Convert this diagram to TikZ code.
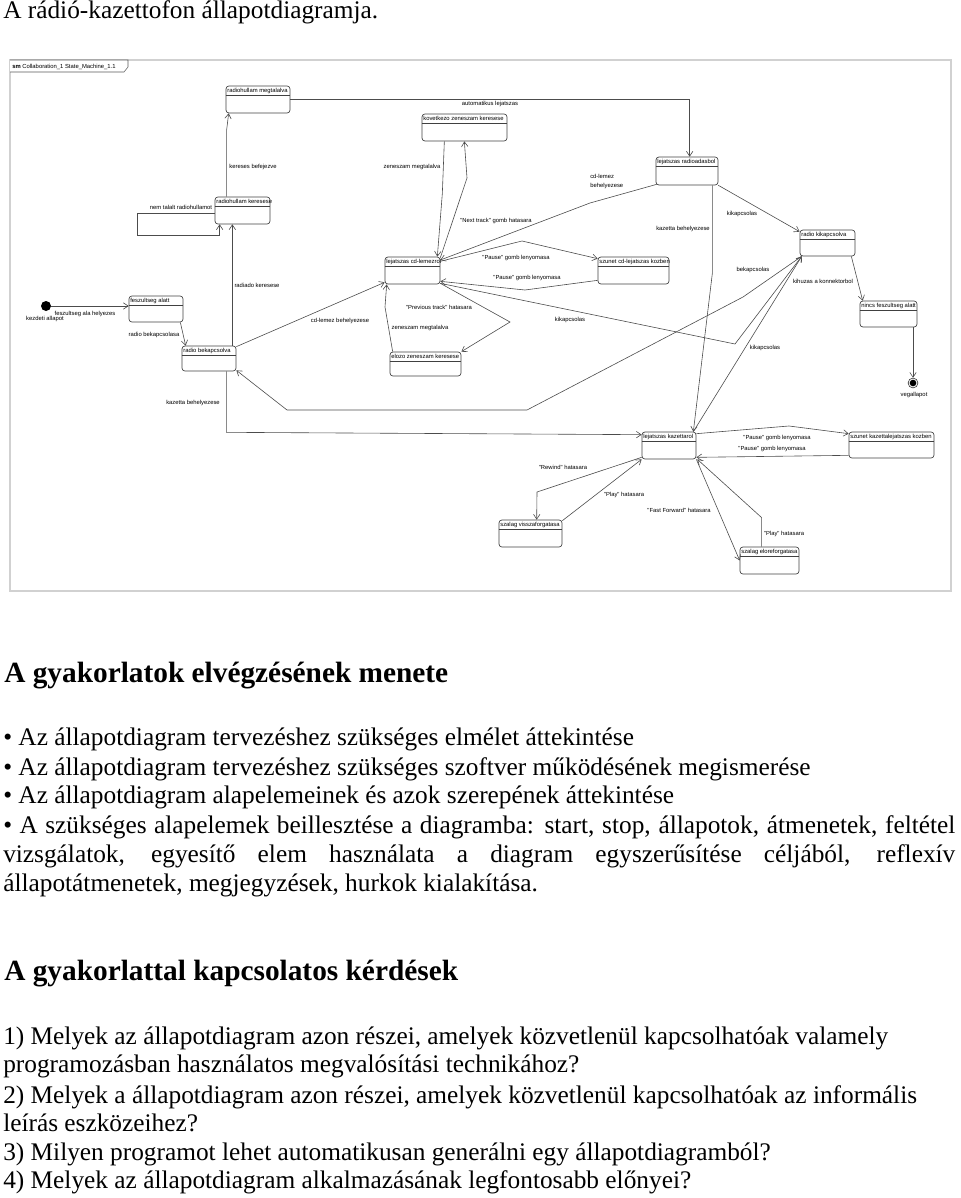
\documentclass[tikz,border=0pt]{standalone}
\usepackage{fontspec}
\setmainfont{Liberation Serif}
\newfontfamily\diagfont{Liberation Sans}
\newcommand{\kisbetu}{\diagfont\fontsize{4.4}{6.75}\selectfont}
\usetikzlibrary{arrows.meta}

\begin{document}
\begin{tikzpicture}[
	x=0.75pt, y=-0.75pt,
	allapot/.style={draw=black!75, line width=0.5pt, rounded corners=2.2pt, inner sep=0},
	allapotnev/.style={anchor=base west, inner sep=0, font=\kisbetu},
	valaszto/.style={draw=black!75, line width=0.5pt},
	atmenet/.style={draw=black!70, line width=0.45pt, -{Straight Barb[length=3.6pt,width=4.8pt]}},
	felirat/.style={inner sep=0, font=\kisbetu},
	keret/.style={draw=black!18, line width=1.1pt},
	szoveg/.style={anchor=base west, inner sep=0, font=\fontsize{19}{21.75}\selectfont},
	cimsor/.style={anchor=base west, inner sep=0, font=\fontsize{22}{26}\selectfont\bfseries}
]
	\useasboundingbox (0,0) rectangle (960,1198);

	% keret
	\draw[keret] (10,60) rectangle (951,591);
	\draw[draw=black!65, line width=0.4pt, fill=white]
		(10,60) -- (128,60) -- (128,67) -- (124,72) -- (10,72);
	\node[felirat, anchor=west] (fejlec) at (12,66.5)
		{\textbf{sm} Collaboration\_1 State\_Machine\_1.1};

	% allapotok
	\foreach \nev/\xa/\ya/\xb/\yb/\szov in {
		rhm/226/86/290/113/radiohullam megtalalva,
		kzk/422/114/507/141/kovetkezo zeneszam keresese,
		lrad/656/157/718/185/lejatszas radioadasbol,
		rhk/215/197/270/224/radiohullam keresese,
		rki/800/230/855/256/radio kikapcsolva,
		lcd/385/257/440/284/lejatszas cd-lemezrol,
		szcd/598/257/669/284/szunet cd-lejatszas kozben,
		fesz/129/296/183/322/feszultseg alatt,
		nfesz/860/301/917/327/nincs feszultseg alatt,
		rbe/182/346/236/371/radio bekapcsolva,
		ezk/390/352/461/376/elozo zeneszam keresese,
		lkaz/642/432/696/459/lejatszas kazettarol,
		szkaz/849/432/934/458/szunet kazettalejatszas kozben,
		szv/499/520/562/547/szalag visszaforgatasa,
		sze/740/547/799/574/szalag eloreforgatasa%
	}{
		\node[allapot, minimum width={(\xb-\xa)*0.75pt}, minimum height={(\yb-\ya)*0.75pt}]
			(\nev) at ({(\xa+\xb)/2},{(\ya+\yb)/2}) {};
		\node[allapotnev] (\nev-nev) at ([shift={(1.4,7.2)}]\nev.north west) {\szov};
		\draw[valaszto] ([yshift=-7pt]\nev.north west) -- ([yshift=-7pt]\nev.north east);
	}

	\node[circle, fill=black, inner sep=0, minimum size=7.5pt] (kezdo) at (46,306) {};
	\node[circle, draw=black!75, line width=0.5pt, inner sep=0, minimum size=7.4pt] (veg) at (913,383) {};
	\node[circle, fill=black, inner sep=0, minimum size=5pt] (veg-bel) at (veg) {};
	\node[felirat] (kezdo-nev) at (45,319) {kezdeti allapot};
	\node[felirat] (veg-nev) at (914,395) {vegallapot};

	% atmenetek
	\draw[atmenet] (kezdo.east) -- ([yshift=2.25pt]fesz.west);
	\draw[atmenet] ([xshift=-2.25pt]fesz.south east) -- ([xshift=3pt]rbe.north west);
	\draw[atmenet] ([xshift=-3pt]rbe.north east) -- ([xshift=-3pt]rbe.north east |- rhk.south);
	\draw[atmenet] ([yshift=-2pt]rhk.west) -- ++(-77,0) -- ++(0,22) -| ([xshift=3.75pt]rhk.south west);
	\draw[atmenet] ([xshift=9pt]rhk.north west) -- ++(0,-67) -- ([xshift=2.25pt]rhm.south west);
	\draw[atmenet] (rhm.east) -| ([xshift=2pt]lrad.north);
	\draw[atmenet] ([shift={(1,-1)}]lrad.south west) -- (590,203) -- ([yshift=-2.5pt]lcd.north east);
	\draw[atmenet] (lrad.south east) -- ([yshift=-1.5pt]rki.north west);
	\draw[atmenet] ([xshift=-4.5pt]lrad.south east) -- ++(0,88) -- ([xshift=-2.25pt]lkaz.north east);
	\draw[atmenet] ([xshift=17pt]kzk.south west) -- ++(-2,52) -- ([xshift=-2.25pt]lcd.north east);
	\draw[atmenet] ([yshift=-0.75pt]lcd.north east) -- (467,178) -- ([xshift=32pt]kzk.south west);
	\draw[atmenet] ([yshift=-3.5pt]lcd.north east) -- (522,241) -- ([yshift=-1.5pt]szcd.north west);
	\draw[atmenet] ([yshift=3pt]szcd.south west) -- (525,290) -- ([yshift=2.25pt]lcd.south east);
	\draw[atmenet] ([yshift=0.75pt]lcd.south east) -- (510,322) -- (ezk.north east);
	\draw[atmenet] ([xshift=2.25pt]ezk.north west) -- (385,307) -- ([xshift=1.5pt]lcd.south west);
	\draw[atmenet] ([yshift=-0.75pt]rbe.north east) -- ([yshift=1.5pt]lcd.south west);
	\draw[atmenet] ([yshift=0.75pt]lcd.south east) -- (735,344) -- ([xshift=1.5pt]rki.south west);
	\draw[atmenet] ([xshift=1.5pt]rki.south west) -- (743,297) -- (527,410) -- (287,410) -- ([yshift=0.75pt]rbe.south east);
	\draw[atmenet] ([xshift=-7.5pt]rbe.south east) -- ++(0,61) -- ([yshift=-2.25pt]lkaz.north west);
	\draw[atmenet] ([xshift=-2.25pt]lkaz.north east) -- ([xshift=1.5pt]rki.south west);
	\draw[atmenet] ([xshift=-3pt]rki.south east) -- ([xshift=2.25pt]nfesz.north west);
	\draw[atmenet] (veg |- nfesz.south) -- (veg.north);
	\draw[atmenet] ([yshift=-1.5pt]lkaz.north east) -- (789,426) -- ([yshift=-1.5pt]szkaz.north west);
	\draw[atmenet] ([yshift=2.25pt]szkaz.south west) -- ([yshift=1.5pt]lkaz.south east);
	\draw[atmenet] ([yshift=1.5pt]lkaz.south west) -- (537,492) -- ([xshift=28.5pt]szv.north west);
	\draw[atmenet] ([yshift=-0.75pt]szv.north east) -- (lkaz.south west);
	\draw[atmenet] (lkaz.south east) -- (sze.west);
	\draw[atmenet] ([xshift=16.5pt]sze.north west) -- ++(0,-29) -- ([xshift=0.75pt]lkaz.south east);

	% feliratok
	\node[felirat] (f-fesz) at (85,314) {feszultseg ala helyezes};
	\node[felirat] (f-rbe) at (154,335) {radio bekapcsolasa};
	\node[felirat] (f-rhk) at (257,285) {radiado keresese};
	\node[felirat] (f-hurok) at (181,207) {nem talalt radiohullamot};
	\node[felirat] (f-rhm) at (253,167) {kereses befejezve};
	\node[felirat] (f-auto) at (490,104) {automatikus lejatszas};
	\node[felirat, align=left, anchor=west] (f-cd1) at (590,181.5) {cd-lemez\\behelyezese};
	\node[felirat] (f-ki1) at (742,214) {kikapcsolas};
	\node[felirat] (f-kaz1) at (683,229) {kazetta behelyezese};
	\node[felirat] (f-zm1) at (412,167) {zeneszam megtalalva};
	\node[felirat] (f-next) at (496,221) {"Next track" gomb hatasara};
	\node[felirat] (f-p1) at (516,258) {"Pause" gomb lenyomasa};
	\node[felirat] (f-p2) at (527,278) {"Pause" gomb lenyomasa};
	\node[felirat] (f-prev) at (439,307) {"Previous track" hatasara};
	\node[felirat] (f-zm2) at (420,328) {zeneszam megtalalva};
	\node[felirat] (f-cd2) at (340,321) {cd-lemez behelyezese};
	\node[felirat] (f-ki2) at (570,320) {kikapcsolas};
	\node[felirat] (f-be) at (753,270) {bekapcsolas};
	\node[felirat] (f-kaz2) at (193,403) {kazetta behelyezese};
	\node[felirat] (f-ki3) at (765,348) {kikapcsolas};
	\node[felirat] (f-kihuz) at (823,281) {kihuzas a konnektorbol};
	\node[felirat] (f-p3) at (777,438) {"Pause" gomb lenyomasa};
	\node[felirat] (f-p4) at (772,449) {"Pause" gomb lenyomasa};
	\node[felirat] (f-rew) at (563,467) {"Rewind" hatasara};
	\node[felirat] (f-play1) at (624,495) {"Play" hatasara};
	\node[felirat] (f-ff) at (679,510) {"Fast Forward" hatasara};
	\node[felirat] (f-play2) at (784,534) {"Play" hatasara};

	% szoveg
	\node[szoveg] (cim) at (3,19) {A rádió-kazettofon állapotdiagramja.};
	\node[cimsor] (menete) at (4,682) {A gyakorlatok elvégzésének menete};
	\node[szoveg] (pont1) at (3,745) {• Az állapotdiagram tervezéshez szükséges elmélet áttekintése};
	\node[szoveg] (pont2) at (3,775) {• Az állapotdiagram tervezéshez szükséges szoftver működésének megismerése};
	\node[szoveg] (pont3) at (3,803) {• Az állapotdiagram alapelemeinek és azok szerepének áttekintése};
	\node[szoveg] (pont4a) at (3,833) {\makebox[714pt][s]{• A szükséges alapelemek beillesztése a diagramba: start, stop, állapotok, átmenetek, feltétel}};
	\node[szoveg] (pont4b) at (3,862) {\makebox[714pt][s]{vizsgálatok, egyesítő elem használata a diagram egyszerűsítése céljából, reflexív}};
	\node[szoveg] (pont4c) at (3,891) {állapotátmenetek, megjegyzések, hurkok kialakítása.};
	\node[cimsor] (kerdesek) at (4,980) {A gyakorlattal kapcsolatos kérdések};
	\node[szoveg] (k1a) at (3,1044) {1) Melyek az állapotdiagram azon részei, amelyek közvetlenül kapcsolhatóak valamely};
	\node[szoveg] (k1b) at (3,1072) {programozásban használatos megvalósítási technikához?};
	\node[szoveg] (k2a) at (3,1103) {2) Melyek a állapotdiagram azon részei, amelyek közvetlenül kapcsolhatóak az informális};
	\node[szoveg] (k2b) at (3,1131) {leírás eszközeihez?};
	\node[szoveg] (k3) at (3,1160) {3) Milyen programot lehet automatikusan generálni egy állapotdiagramból?};
	\node[szoveg] (k4) at (3,1188) {4) Melyek az állapotdiagram alkalmazásának legfontosabb előnyei?};
\end{tikzpicture}
\end{document}
